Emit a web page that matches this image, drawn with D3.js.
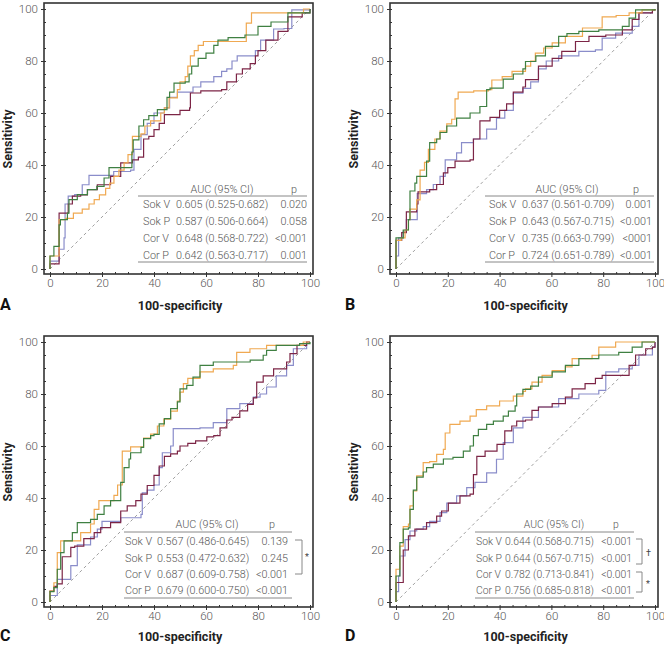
<!DOCTYPE html>
<html>
<head>
<meta charset="utf-8">
<script src="https://cdn.jsdelivr.net/npm/d3@7"></script>
<style>
  body { margin: 0; background: #fff; }
  svg { display: block; }
  text { font-family: "Roboto", sans-serif; }
</style>
</head>
<body>
<div id="chart"></div>
<script>
// tick labels
const majorTicks = [0, 20, 40, 60, 80, 100];
const minorTicks = [0, 5, 10, 15, 20, 25, 30, 35, 40, 45, 50, 55, 60, 65, 70, 75, 80, 85, 90, 95, 100];

// table rows
const rowLabels = ["Sok V", "Sok P", "Cor V", "Cor P"];
const aucA = ["0.605 (0.525-0.682)", "0.587 (0.506-0.664)", "0.648 (0.568-0.722)", "0.642 (0.563-0.717)"];
const pA = ["0.020", "0.058", "<0.001", "0.001"];
const aucB = ["0.637 (0.561-0.709)", "0.643 (0.567-0.715)", "0.735 (0.663-0.799)", "0.724 (0.651-0.789)"];
const pB = ["0.001", "<0.001", "<0001", "<0.001"];
const aucC = ["0.567 (0.486-0.645)", "0.553 (0.472-0.632)", "0.687 (0.609-0.758)", "0.679 (0.600-0.750)"];
const pC = ["0.139", "0.245", "<0.001", "<0.001"];
const aucD = ["0.644 (0.568-0.715)", "0.644 (0.567-0.715)", "0.782 (0.713-0.841)", "0.756 (0.685-0.818)"];
const pD = ["<0.001", "<0.001", "<0.001", "<0.001"];

// ROC points [100-specificity, sensitivity]
const A_sokV = [[0,0],[0,3],[2.8,3],[3.5,7.6],[5.4,12],[5.8,25],[7,28],[9.5,28.6],[12.4,32.4],[15,36],[23.3,36],[24.5,37.5],[31,38],[32.3,46],[35,51.7],[37.4,56],[40,60],[44,62],[46,66],[49,68],[55,70],[58,72],[63,74],[66,76],[68,77],[70,80],[72,82],[77,82],[79,84],[81,88],[86,92.3],[90,92.5],[93,99.7],[100,100]];
const A_sokP = [[0,0],[0,2],[2.8,2],[3.5,21.5],[6.5,21.5],[7,25],[8.6,28],[11.8,28.5],[14.4,30.5],[18.2,32.4],[23.3,35.6],[27.2,40.8],[31.7,42],[34,43],[36,50],[38,51],[40,53.6],[42,56],[44,59.4],[49,59.4],[50,61],[53.7,62],[54,67.7],[58,68.5],[66,69],[68,72],[71.7,75],[74,77],[77,79],[79,82],[80,84],[83,88],[87.7,91.4],[91.5,91.4],[91.5,97],[97,98.5],[100,100]];
const A_corV = [[0,0],[0,5],[2.8,5],[3.5,19],[6,19.5],[9,21.5],[12.4,23],[15,25],[17,26.7],[19,28.5],[21.4,31],[23,33],[24.6,35.6],[26.5,38],[28.5,40.8],[30,44],[31.7,51],[35,52],[36.5,55],[38.7,57],[42.6,60],[44,62],[45.8,65.8],[49,69],[50,72],[52,74],[53,78],[54,82],[55.5,84],[57,86],[59,87.5],[75.5,87.5],[75.5,94.6],[77,94.6],[77.5,98.5],[96.6,98.5],[97.5,100],[100,100]];
const A_corP = [[0,0],[0,5],[1.5,8.7],[3.5,17],[4,19],[6.7,21.5],[7.3,26.7],[10.5,28.6],[14.4,30.5],[18,31.8],[20.8,35],[22.7,39],[31,39],[31.5,45],[32,49.7],[34.2,55],[36,57.4],[38,59],[41.3,61.3],[45,66],[46,68],[47.7,71.5],[52,72],[53.5,75],[54.5,78],[57,81],[60,83],[63,86],[64.6,88],[68.5,89],[75,90],[80,93.3],[85,95],[91.5,95],[91.5,98.5],[98,98.5],[100,100]];

const B_sokV = [[0,0],[0,5],[1,12],[2.8,14.5],[4,19],[8,19],[8.2,29],[11.8,30.5],[14.4,32.5],[17,35.6],[19,42],[23.4,44.7],[25.3,48.6],[29.9,50],[35,53.8],[38.8,58],[42,61],[45.3,67.6],[49,69.5],[52,72],[55,77],[58,80],[62.8,82],[70.6,83.7],[77,84.3],[79.6,88.8],[84.8,90.7],[91.2,93.3],[93.8,98.5],[99,99.7],[100,100]];
const B_sokP = [[0,0],[0,11],[2.2,14],[4,22],[8,25],[8.5,29.7],[11,29.7],[13,30.5],[15.7,32.5],[18.3,37],[20,39],[22.8,41.5],[28.6,42],[29.9,50],[32.4,57],[36.3,58.3],[40,61],[42.7,63.5],[45.3,68],[49,70],[50,72.8],[55,78],[60.3,81],[64,83.7],[69.3,87.5],[74.5,89.5],[81,90],[87.4,92],[91.2,96],[93.8,98.5],[99,99.7],[100,100]];
const B_corV = [[0,0],[0,11],[2,12],[3.5,15],[4.8,19],[5.4,23],[8,26.6],[9.3,38],[11,41],[12.5,46],[15,50],[17,53],[19.6,55.8],[21.5,57.6],[22.8,65.4],[24,68],[30,68.5],[35.7,69],[37,72.7],[41,74],[44.8,76],[50,78],[52,80],[53.8,83],[57,85],[60.3,87],[65.4,89.5],[72,92.7],[79,92.7],[79.6,97],[85,97.5],[90,98.5],[95,99.7],[100,100]];
const B_corP = [[0,0],[0,12],[2.8,15],[4.8,19],[5.4,30],[7.3,33],[8,35.6],[10.5,35.6],[11.8,41.5],[13,48.6],[15.7,50],[17,52.5],[19.6,55],[23.4,58],[28.6,60],[32.4,62.5],[35,69],[36.3,69.6],[41.4,73],[45.3,75],[49,77],[50,79.8],[54,82],[57.7,85.6],[62.8,89.5],[66,90.5],[70.6,91.4],[78.3,92],[87.4,93.3],[90,96.5],[92.5,99.7],[100,100]];

const C_sokV = [[0,0],[0,2.5],[2.8,8.7],[8,14],[10.5,22],[15.6,25],[18.2,28],[20,31],[27.2,32.4],[35,33.7],[35.5,42],[37.4,43],[40,45],[42,51.7],[43.2,57.4],[46.4,60],[47.4,66.7],[57.7,67],[62.8,69],[68,74.4],[73,76.3],[78.2,78.8],[80.8,80],[83.3,82.7],[87,87],[91,91],[93.6,97.4],[98.7,100],[100,100]];
const C_sokP = [[0,0],[0,4.2],[1.5,6],[2.8,7],[4.7,17.4],[8,21],[9.5,21.5],[13,24.4],[17,26.7],[19.5,28.6],[23.3,30.5],[27.2,35],[29.7,37],[33,39],[35,41.5],[37.4,44.8],[40,48.7],[42,52.3],[44,56],[46.4,57],[49,58],[50,60],[53,61],[56,62],[60.3,63.5],[63,64],[65.4,67],[68,70],[70,71],[73,73.5],[76,76],[78.2,78.5],[79.5,84.6],[82,87],[86,89.7],[91,92.3],[92.3,95.5],[95,98.7],[98.7,100],[100,100]];
const C_corV = [[0,0],[0,4.2],[1.5,7.4],[2.8,19],[4.1,23.5],[6.7,23.5],[11.8,26.7],[15.6,30],[17,35.6],[18.8,39],[23.3,39],[24.6,41],[26,45],[27.8,58],[31,59.7],[36,60.5],[36,63],[38.7,64.6],[41.3,67.7],[43.8,70.3],[46.4,73.4],[49,77.3],[50,80.7],[51.3,84],[53,86],[57.7,88.5],[62.8,89.7],[70.5,91],[71.8,96],[76.9,97.4],[83.3,98.7],[97.4,100],[100,100]];
const C_corP = [[0,0],[0,4],[1.5,5.5],[2.8,12.6],[4.1,19],[5.4,23.5],[8.6,26.7],[10.5,30.5],[15.6,31.8],[18.2,33.7],[20.8,37],[23.3,39],[26.5,39],[27.2,46],[28.5,51.7],[30.4,55],[31,57.4],[35,59.5],[36,62.8],[38.7,64],[40,64.5],[42,68.5],[44,70.5],[46.4,74.4],[49,77],[50,82],[52.6,83.3],[55,86.5],[57.7,91],[62.8,92.3],[69,92.3],[77,93],[82,94.9],[83.3,96.8],[87,98.7],[96,99.4],[100,100]];

const D_sokV = [[0,0],[0,4],[1,10],[1.5,17.7],[3.5,24],[5.4,27.3],[8,28],[10.5,29],[13,31],[17,34.4],[19.6,38],[23.4,40.8],[27.3,44],[30.5,46],[35,49.7],[38.8,54.9],[41.4,61.3],[45.3,67],[49,71],[55,75],[62.8,78.2],[70.6,80],[78.3,81.4],[81,88.5],[86,89.7],[91.2,91],[93.8,95],[99,98],[100,100]];
const D_sokP = [[0,0],[0,7.5],[1.5,7.5],[2.8,20],[4.8,25.4],[7.3,28],[10,28],[11.8,30.5],[15.7,33],[17.6,35],[20.2,38],[24.7,40.8],[28.6,41.5],[29.9,49],[31.2,56],[34.4,58],[37,58],[39,60.6],[42,65.8],[44.7,67.7],[46.6,69.6],[50,70],[52.5,73.7],[55,75],[60.3,76.3],[65.4,78.8],[68,82],[73,84],[77,86],[79.6,87.2],[86,87.2],[90,91],[92.5,95],[96.4,97.4],[99,98],[100,100]];
const D_corV = [[0,0],[0,12.6],[1.5,21.5],[2.8,29],[4.8,30],[5.4,37],[6.7,42.7],[8,48.5],[10.5,53.6],[13,54],[15.7,56.8],[18.3,58.7],[19,65],[20.8,68.3],[24.7,69.6],[28.6,71.5],[31,74],[35,75.4],[40,77.3],[45.3,79.2],[49,81],[50,82],[52.5,84.6],[56.4,87.2],[60.3,89],[65.4,90.4],[68,93.6],[75.7,94.9],[78.3,98],[84.8,100],[100,100]];
const D_corP = [[0,0],[0,10],[1.5,22.8],[2.8,28],[4.8,28.5],[5.4,35.6],[6.7,43],[8,48],[10.5,50],[11.8,51.7],[14.4,53],[18.3,55],[22,55.6],[26,58],[28.6,60],[29.9,64],[31.8,66.4],[35,68.3],[37.6,69.6],[41.4,71.5],[43.4,73.4],[46,75.4],[46.6,80],[49,81.8],[52,83],[55,86.5],[60.3,88.5],[65.4,91],[70.6,93.6],[78.3,95],[86,96],[91.2,98],[95,100],[100,100]];

const colors = { sokV: "#8a8dca", sokP: "#7c2546", corV: "#f0a952", corP: "#3f8042" };

const W = 664, H = 645;
const svg = d3.select("#chart").append("svg")
  .attr("width", W)
  .attr("height", H);
svg.append("rect").attr("width", W).attr("height", H).attr("fill", "#fff");

// layout of the four panels
const panels = [
  { letter: "A", left: 50, right: 310, bottom: 269, top: 9, letterX: 0, titleY: 310,
    series: [A_sokV, A_sokP, A_corV, A_corP], auc: aucA, p: pA,
    tbl: { fs: 10.8, x0: 138, x1: 307, label: 143, value: 176, pRight: 307, aucX: 222, pX: 294, head: 193, rows: [208, 225, 242, 259], topLine: 196, botLine: 262 } },
  { letter: "B", left: 396, right: 655, bottom: 269, top: 9, letterX: 345, titleY: 310,
    series: [B_sokV, B_sokP, B_corV, B_corP], auc: aucB, p: pB,
    tbl: { fs: 10.8, x0: 485, x1: 654, label: 489, value: 522, pRight: 652, aucX: 567, pX: 636, head: 193, rows: [208, 225, 242, 259], topLine: 196, botLine: 262 } },
  { letter: "C", left: 50, right: 310, bottom: 602, top: 342, letterX: 0, titleY: 641,
    series: [C_sokV, C_sokP, C_corV, C_corP], auc: aucC, p: pC,
    tbl: { fs: 10.8, x0: 124, x1: 292, label: 125, value: 157, pRight: 288, aucX: 207, pX: 272, head: 528, rows: [545, 562, 578, 594], topLine: 532, botLine: 598 } },
  { letter: "D", left: 396, right: 655, bottom: 602, top: 342, letterX: 345, titleY: 641,
    series: [D_sokV, D_sokP, D_corV, D_corP], auc: aucD, p: pD,
    tbl: { fs: 10.4, x0: 475, x1: 634, label: 476, value: 505, pRight: 632, aucX: 554, pX: 616, head: 528, rows: [545, 562, 578, 594], topLine: 532, botLine: 598 } }
];
const seriesColors = [colors.sokV, colors.sokP, colors.corV, colors.corP];

panels.forEach(drawPanel);

function drawPanel(p) {
  const g = svg.append("g");
  const x = d3.scaleLinear().domain([0, 100]).range([p.left, p.right]);
  const y = d3.scaleLinear().domain([0, 100]).range([p.bottom, p.top]);

  const fx0 = x(0) - 6, fx1 = x(100) + 3, fy0 = y(100) - 6, fy1 = y(0) + 5;

  // reference diagonal
  g.append("line")
    .attr("x1", x(0)).attr("y1", y(0))
    .attr("x2", x(100)).attr("y2", y(100))
    .attr("stroke", "#888").attr("stroke-width", 0.8)
    .attr("stroke-dasharray", "3,3");

  // ROC curves
  const line = d3.line()
    .x(d => x(d[0]))
    .y(d => y(d[1]))
    .curve(d3.curveStepAfter);

  p.series.forEach((s, i) => {
    g.append("path")
      .datum(s)
      .attr("d", line)
      .attr("fill", "none")
      .attr("stroke", seriesColors[i])
      .attr("stroke-width", 1.2);
  });

  // left axis: major ticks outside, minor ticks inside
  const yAxis = g.append("g")
    .attr("transform", "translate(" + fx0 + ",0)")
    .call(d3.axisLeft(y).tickValues(majorTicks).tickSize(3).tickPadding(3));
  yAxis.select(".domain").remove();
  yAxis.selectAll("line").attr("stroke", "#333");
  yAxis.selectAll("text").attr("font-size", 11.5).attr("fill", "#555")
    .style("font-family", "Roboto, sans-serif").style("font-weight", 300);

  const yMinor = g.append("g")
    .attr("transform", "translate(" + fx0 + ",0)")
    .call(d3.axisRight(y).tickValues(minorTicks).tickSize(2).tickFormat(""));
  yMinor.select(".domain").remove();
  yMinor.selectAll("line").attr("stroke", "#333");

  const xAxis = g.append("g")
    .attr("transform", "translate(0," + fy1 + ")")
    .call(d3.axisBottom(x).tickValues(majorTicks).tickSize(3).tickPadding(2));
  xAxis.select(".domain").remove();
  xAxis.selectAll("line").attr("stroke", "#333");
  xAxis.selectAll("text").attr("font-size", 11.5).attr("fill", "#555")
    .style("font-family", "Roboto, sans-serif").style("font-weight", 300);

  const xMinor = g.append("g")
    .attr("transform", "translate(0," + fy1 + ")")
    .call(d3.axisTop(x).tickValues(minorTicks).tickSize(2).tickFormat(""));
  xMinor.select(".domain").remove();
  xMinor.selectAll("line").attr("stroke", "#333");

  // frame
  g.append("rect")
    .attr("x", fx0).attr("y", fy0)
    .attr("width", fx1 - fx0).attr("height", fy1 - fy0)
    .attr("fill", "none").attr("stroke", "#333").attr("stroke-width", 1.6);

  // axis titles
  g.append("text")
    .attr("x", (x(0) + x(100)) / 2).attr("y", p.titleY)
    .attr("text-anchor", "middle")
    .attr("font-size", 12.5).attr("font-weight", "bold").attr("fill", "#222")
    .text("100-specificity");

  g.append("text")
    .attr("transform", "translate(" + (fx0 - 32.5) + "," + ((y(0) + y(100)) / 2) + ") rotate(-90)")
    .attr("text-anchor", "middle")
    .attr("font-size", 12.5).attr("font-weight", "bold").attr("fill", "#222")
    .text("Sensitivity");

  g.append("text")
    .attr("x", p.letterX).attr("y", p.titleY)
    .attr("font-size", 16).attr("font-weight", "bold").attr("fill", "#111")
    .text(p.letter);

  // AUC table
  const t = p.tbl;
  const tg = g.append("g").attr("fill", "#555").attr("font-size", t.fs).attr("font-weight", 300);
  tg.append("text").attr("x", t.aucX).attr("y", t.head).attr("text-anchor", "middle").text("AUC (95% CI)");
  tg.append("text").attr("x", t.pX).attr("y", t.head).attr("text-anchor", "middle").text("p");
  [t.topLine, t.botLine].forEach(ly => {
    g.append("line").attr("x1", t.x0).attr("x2", t.x1).attr("y1", ly).attr("y2", ly)
      .attr("stroke", "#888").attr("stroke-width", 1);
  });
  rowLabels.forEach((lab, i) => {
    tg.append("text").attr("x", t.label).attr("y", t.rows[i]).text(lab);
    tg.append("text").attr("x", t.value).attr("y", t.rows[i]).text(p.auc[i]);
    tg.append("text").attr("x", t.pRight).attr("y", t.rows[i]).attr("text-anchor", "end").text(p.p[i]);
  });
}

// significance brackets
function bracket(x0, x1, y0, y1) {
  svg.append("path")
    .attr("d", "M" + x0 + "," + y0 + "H" + x1 + "V" + y1 + "H" + x0)
    .attr("fill", "none").attr("stroke", "#888").attr("stroke-width", 1);
}
function mark(xp, yp, s) {
  svg.append("text").attr("x", xp).attr("y", yp)
    .attr("font-size", 9).attr("fill", "#444").text(s);
}
bracket(295, 302, 540, 574);
mark(305, 560, "*");
bracket(636, 642, 539, 564);
mark(646, 556, "†");
bracket(636, 642, 572, 592);
mark(646, 587, "*");
</script>
</body>
</html>
